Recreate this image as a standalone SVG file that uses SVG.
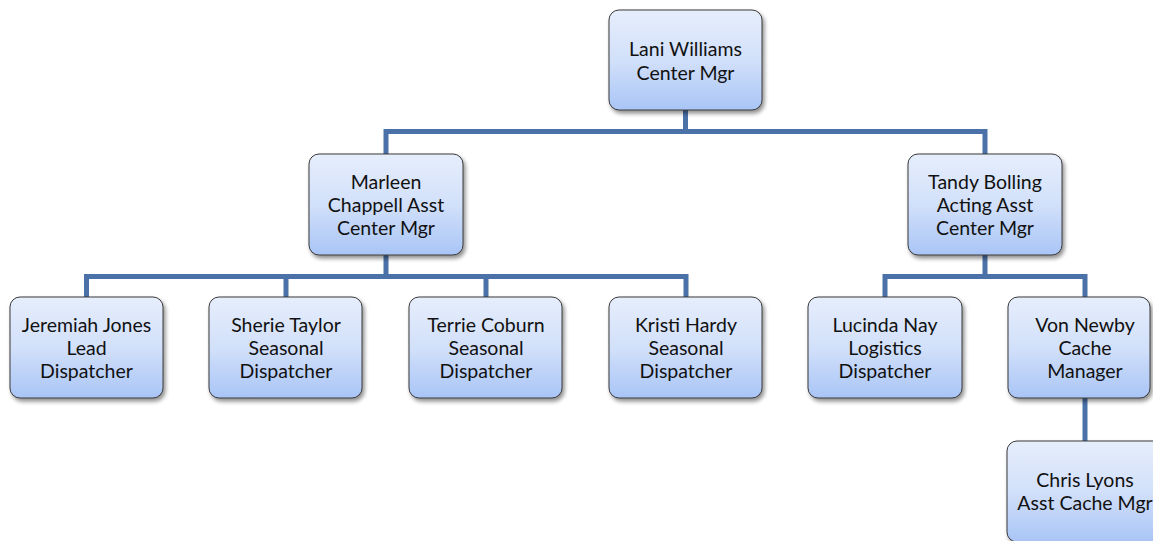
<svg xmlns="http://www.w3.org/2000/svg" width="1153" height="541" viewBox="0 0 1153 541">
<style>
.box{fill:url(#g);stroke:#3a3a3a;stroke-width:1;filter:url(#sh)}
.t{font-family:Lato,"Open Sans","Liberation Sans",sans-serif;font-size:19.5px;fill:#111;text-anchor:middle}
.c{stroke:#4a72a8;stroke-width:5;fill:none}
</style>
<defs>
<linearGradient id="g" x1="0" y1="0" x2="0" y2="1">
<stop offset="0" stop-color="#e6eefc"/>
<stop offset="0.5" stop-color="#d2e0fa"/>
<stop offset="1" stop-color="#a9c5f6"/>
</linearGradient>
<filter id="sh" x="-10%" y="-10%" width="130%" height="130%">
<feGaussianBlur in="SourceAlpha" stdDeviation="2"/>
<feOffset dx="2" dy="3" result="b"/>
<feComponentTransfer><feFuncA type="linear" slope="0.45"/></feComponentTransfer>
<feMerge><feMergeNode/><feMergeNode in="SourceGraphic"/></feMerge>
</filter>
</defs>
<g id="connectors">
<path class="c" d="M685.5 110V131.5M386 136V131.5H985V154M386 154V131.5"/>
<path class="c" d="M386 255V276.5M86.5 297V276.5H686V297M286 276.5V297M486 276.5V297"/>
<path class="c" d="M985 255V276.5M885 297V276.5H1085V297"/>
<path class="c" d="M1085 398V441"/>
</g>
<g id="n1"><rect class="box" x="609" y="10" width="153" height="100" rx="10"/><text class="t" x="685.5" y="56">Lani Williams</text><text class="t" x="685.5" y="80">Center Mgr</text></g>
<g id="n2"><rect class="box" x="309" y="154" width="154" height="101" rx="10"/><text class="t" x="386" y="189">Marleen</text><text class="t" x="386" y="212">Chappell Asst</text><text class="t" x="386" y="235">Center Mgr</text></g>
<g id="n3"><rect class="box" x="908" y="154" width="154" height="101" rx="10"/><text class="t" x="985" y="189">Tandy Bolling</text><text class="t" x="985" y="212">Acting Asst</text><text class="t" x="985" y="235">Center Mgr</text></g>
<g id="n4"><rect class="box" x="10" y="297" width="153" height="101" rx="10"/><text class="t" x="86.5" y="332">Jeremiah Jones</text><text class="t" x="86.5" y="355">Lead</text><text class="t" x="86.5" y="378">Dispatcher</text></g>
<g id="n5"><rect class="box" x="209" y="297" width="153" height="101" rx="10"/><text class="t" x="286" y="332">Sherie Taylor</text><text class="t" x="286" y="355">Seasonal</text><text class="t" x="286" y="378">Dispatcher</text></g>
<g id="n6"><rect class="box" x="409" y="297" width="153" height="101" rx="10"/><text class="t" x="486" y="332">Terrie Coburn</text><text class="t" x="486" y="355">Seasonal</text><text class="t" x="486" y="378">Dispatcher</text></g>
<g id="n7"><rect class="box" x="609" y="297" width="153" height="101" rx="10"/><text class="t" x="686" y="332">Kristi Hardy</text><text class="t" x="686" y="355">Seasonal</text><text class="t" x="686" y="378">Dispatcher</text></g>
<g id="n8"><rect class="box" x="808" y="297" width="154" height="101" rx="10"/><text class="t" x="885" y="332">Lucinda Nay</text><text class="t" x="885" y="355">Logistics</text><text class="t" x="885" y="378">Dispatcher</text></g>
<g id="n9"><rect class="box" x="1008" y="297" width="142" height="101" rx="10"/><text class="t" x="1085" y="332">Von Newby</text><text class="t" x="1085" y="355">Cache</text><text class="t" x="1085" y="378">Manager</text></g>
<g id="n10"><rect class="box" x="1007" y="441" width="160" height="101" rx="10"/><text class="t" x="1085" y="487">Chris Lyons</text><text class="t" x="1085" y="510">Asst Cache Mgr</text></g>
</svg>
